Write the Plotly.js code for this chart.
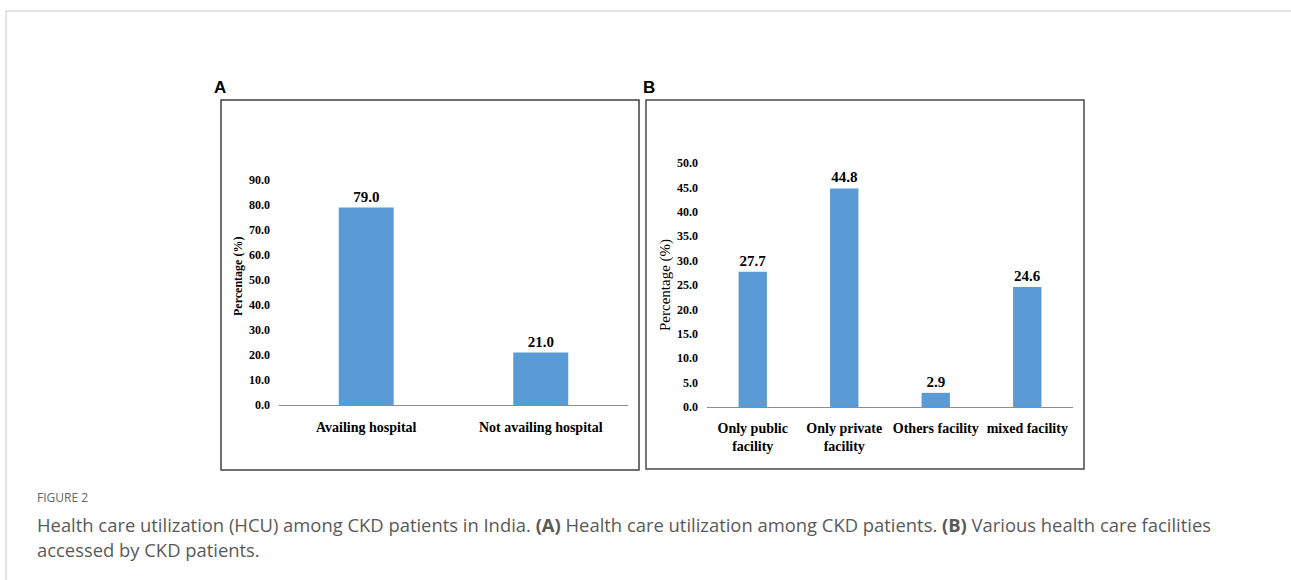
<!DOCTYPE html>
<html>
<head>
<meta charset="utf-8">
<script src="https://cdn.plot.ly/plotly-3.0.1.min.js"></script>
<style>html,body{margin:0;padding:0;background:#fff;}#chart{width:1291px;height:580px;}</style>
</head>
<body>
<div id="chart"></div>
<script>
// ---- data ----
var catsA = ["Availing hospital", "Not availing hospital"];
var valsA = [79.0, 21.0];
var catsB = ["Only public<br>facility", "Only private<br>facility", "Others facility", "mixed facility"];
var valsB = [27.7, 44.8, 2.9, 24.6];
var ticksA = [0, 10, 20, 30, 40, 50, 60, 70, 80, 90];
var ticksB = [0, 5, 10, 15, 20, 25, 30, 35, 40, 45, 50];
var yTitle = "Percentage (%)";
var figLabel = "FIGURE 2";
var captionLine1 = "Health care utilization (HCU) among CKD patients in India. <b>(A)</b> Health care utilization among CKD patients. <b>(B)</b> Various health care facilities";
var captionLine2 = "accessed by CKD patients.";

var W = 1291, H = 580;
function px(x){ return x / W; }
function py(y){ return 1 - y / H; }

var barColor = "#5B9BD5";
var serif = "Liberation Serif, Times New Roman, serif";

var traceA = {
  type: "bar", x: catsA, y: valsA, xaxis: "x", yaxis: "y",
  marker: {color: barColor}, width: 0.315,
  text: valsA.map(function(v){ return v.toFixed(1); }),
  textposition: "outside", cliponaxis: false,
  textfont: {family: serif, size: 15, color: "#000", weight: "bold"},
  hoverinfo: "x+y"
};
var traceB = {
  type: "bar", x: catsB, y: valsB, xaxis: "x2", yaxis: "y2",
  marker: {color: barColor}, width: 0.31,
  text: valsB.map(function(v){ return v.toFixed(1); }),
  textposition: "outside", cliponaxis: false,
  textfont: {family: serif, size: 15, color: "#000", weight: "bold"},
  hoverinfo: "x+y"
};

var tickFont = {family: serif, size: 12, color: "#000", weight: "bold"};
var catFont = {family: serif, size: 14, color: "#000", weight: "bold"};

var layout = {
  width: W, height: H,
  margin: {l: 0, r: 0, t: 0, b: 0},
  paper_bgcolor: "#fff", plot_bgcolor: "rgba(0,0,0,0)",
  showlegend: false,
  xaxis: {
    domain: [px(279), px(628)], anchor: "y",
    showline: true, linecolor: "#8c8c8c", linewidth: 1,
    ticks: "", showgrid: false, zeroline: false,
    tickfont: catFont, ticklabelstandoff: 9, fixedrange: true
  },
  yaxis: {
    domain: [py(405), py(180)], anchor: "x",
    range: [0, 90], tickvals: ticksA,
    ticktext: ticksA.map(function(v){ return v.toFixed(1); }),
    showline: false, showgrid: false, zeroline: false, ticks: "",
    tickfont: tickFont, ticklabelstandoff: 8, fixedrange: true
  },
  xaxis2: {
    domain: [px(707), px(1073)], anchor: "y2",
    showline: true, linecolor: "#8c8c8c", linewidth: 1,
    ticks: "", showgrid: false, zeroline: false,
    tickfont: catFont, ticklabelstandoff: 8, fixedrange: true
  },
  yaxis2: {
    domain: [py(407), py(163)], anchor: "x2",
    range: [0, 50], tickvals: ticksB,
    ticktext: ticksB.map(function(v){ return v.toFixed(1); }),
    showline: false, showgrid: false, zeroline: false, ticks: "",
    tickfont: tickFont, ticklabelstandoff: 8, fixedrange: true
  },
  shapes: [
    // outer page frame
    {type: "path", xref: "paper", yref: "paper",
     path: "M " + px(6) + "," + py(580) + " L " + px(6) + "," + py(11) + " L " + px(1291) + "," + py(11),
     line: {color: "#c8c8c8", width: 1}},
    // panel A box
    {type: "rect", xref: "paper", yref: "paper",
     x0: px(221), x1: px(639), y0: py(470), y1: py(100),
     line: {color: "#404040", width: 1.5}},
    // panel B box
    {type: "rect", xref: "paper", yref: "paper",
     x0: px(646), x1: px(1084), y0: py(469), y1: py(100),
     line: {color: "#4a4a4a", width: 1.5}}
  ],
  annotations: [
    {xref: "paper", yref: "paper", x: px(212), y: py(87), xanchor: "left", yanchor: "middle",
     text: "A", showarrow: false, font: {family: "Liberation Sans, Arial, sans-serif", size: 17, color: "#000", weight: "bold"}},
    {xref: "paper", yref: "paper", x: px(641), y: py(87), xanchor: "left", yanchor: "middle",
     text: "B", showarrow: false, font: {family: "Liberation Sans, Arial, sans-serif", size: 17, color: "#000", weight: "bold"}},
    {xref: "paper", yref: "paper", x: px(238), y: py(277), xanchor: "center", yanchor: "middle",
     text: yTitle, textangle: -90, showarrow: false,
     font: {family: serif, size: 12, color: "#000", weight: "bold"}},
    {xref: "paper", yref: "paper", x: px(665), y: py(285), xanchor: "center", yanchor: "middle",
     text: yTitle, textangle: -90, showarrow: false,
     font: {family: serif, size: 15, color: "#000"}},
    {xref: "paper", yref: "paper", x: px(35), y: py(497), xanchor: "left", yanchor: "middle",
     text: figLabel, showarrow: false,
     font: {family: "Open Sans, sans-serif", size: 12, color: "#666"}},
    {xref: "paper", yref: "paper", x: px(35), y: py(524), xanchor: "left", yanchor: "middle",
     text: captionLine1, showarrow: false,
     font: {family: "Open Sans, sans-serif", size: 18.4, color: "#595959"}},
    {xref: "paper", yref: "paper", x: px(35), y: py(549), xanchor: "left", yanchor: "middle",
     text: captionLine2, showarrow: false,
     font: {family: "Open Sans, sans-serif", size: 18.4, color: "#595959"}}
  ]
};

Plotly.newPlot("chart", [traceA, traceB], layout, {displayModeBar: false, staticPlot: true});
</script>
</body>
</html>
